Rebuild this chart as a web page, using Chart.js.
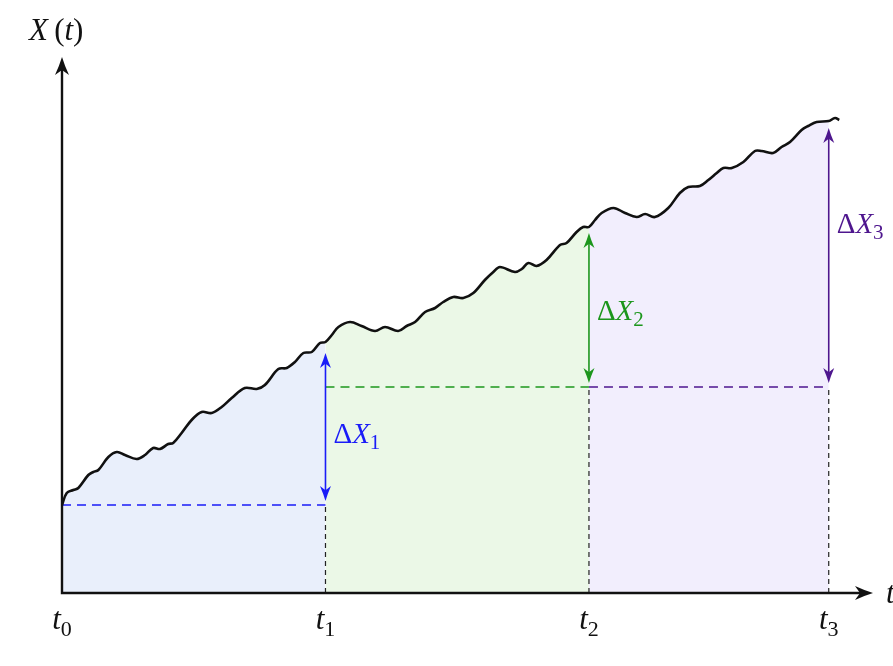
<!DOCTYPE html>
<html>
<head>
<meta charset="utf-8">
<script src="https://cdn.jsdelivr.net/npm/chart.js@4.4.1/dist/chart.umd.min.js"></script>
<style>
  html, body { margin: 0; padding: 0; background: #ffffff; }
  #wrap { width: 893px; height: 666px; }
</style>
</head>
<body>
<div id="wrap"><canvas id="c" width="893" height="666"></canvas></div>
<script>
// ---------------- DATA ----------------
// Sample path X(t)
const tValues = [0.000,0.018,0.043,0.062,0.100,0.119,0.138,0.176,0.208,0.239,0.283,0.315,0.346,0.372,0.403,0.422,0.454,0.492,0.530,0.568,0.606,0.644,0.694,0.739,0.770,0.821,0.853,0.884,0.916,0.948,0.979,1.000,1.024,1.049,1.093,1.137,1.188,1.226,1.276,1.308,1.340,1.378,1.416,1.447,1.485,1.523,1.561,1.605,1.637,1.662,1.719,1.745,1.770,1.801,1.839,1.890,1.915,1.953,1.978,2.000,2.023,2.048,2.093,2.137,2.181,2.213,2.250,2.301,2.345,2.377,2.421,2.453,2.485,2.510,2.542,2.586,2.630,2.655,2.699,2.731,2.763,2.807,2.832,2.864,2.910,2.934,2.950];
const xValues = [0.88,1.00,1.03,1.05,1.18,1.21,1.23,1.36,1.41,1.38,1.34,1.38,1.45,1.44,1.49,1.50,1.60,1.73,1.81,1.80,1.86,1.95,2.05,2.04,2.08,2.24,2.25,2.31,2.40,2.41,2.50,2.51,2.58,2.66,2.71,2.67,2.62,2.66,2.62,2.67,2.71,2.81,2.85,2.91,2.96,2.95,3.00,3.13,3.21,3.26,3.21,3.24,3.30,3.27,3.33,3.48,3.50,3.61,3.66,3.66,3.73,3.80,3.85,3.80,3.76,3.79,3.76,3.85,4.00,4.06,4.07,4.13,4.20,4.25,4.25,4.31,4.42,4.42,4.40,4.46,4.51,4.63,4.67,4.71,4.72,4.75,4.73];

// Time marks t0..t3
const tickTimes = [0, 1, 2, 2.91];
const tickSubs = ['0', '1', '2', '3'];

// Reference levels (dashed horizontals) for each interval
const intervalStarts = [0, 1, 2];
const intervalEnds = [1, 2, 2.91];
const baseLevels = [0.88, 2.06, 2.06];

// Increment arrows ΔX_i : bottom and top values
const arrowTimes = [1, 2, 2.91];
const arrowBottoms = [0.92, 2.10, 2.10];
const arrowTops = [2.40, 3.60, 4.65];
const deltaSubs = ['1', '2', '3'];
const deltaLabelLevels = [1.50, 2.73, 3.60];

// Axis extents (data units)
const tMax = 3.078;
const xMax = 5.36;

// ---------------- STYLE ----------------
const fillColors = ['#e9effb', '#ebf8e7', '#f2eefd'];
const lineColors = ['#1a1cf8', '#1c961c', '#4e168e'];
const SERIF = '"Liberation Serif", "DejaVu Serif", serif';

// ---------------- DATASETS ----------------
const pathPts = tValues.map((t, i) => ({ x: t, y: xValues[i] }));
const datasets = [];

intervalStarts.forEach((a, i) => {
  const b = intervalEnds[i];
  datasets.push({
    data: pathPts.filter(p => p.x >= a - 1e-9 && p.x <= b + 1e-9),
    borderWidth: 0, borderColor: 'rgba(0,0,0,0)',
    backgroundColor: fillColors[i], fill: 'origin',
    pointRadius: 0, tension: 0.35, order: 5
  });
});

intervalStarts.forEach((a, i) => {
  const b = intervalEnds[i];
  datasets.push({
    data: [{ x: a, y: baseLevels[i] }, { x: b, y: baseLevels[i] }],
    borderColor: lineColors[i], borderWidth: 1.4, borderDash: [9, 6],
    pointRadius: 0, fill: false, order: 3
  });
  datasets.push({
    data: [{ x: b, y: 0 }, { x: b, y: baseLevels[i] }],
    borderColor: '#222', borderWidth: 1.2, borderDash: [5, 4],
    pointRadius: 0, fill: false, order: 3
  });
});

datasets.push({
  data: pathPts, borderColor: '#111', borderWidth: 2.6,
  pointRadius: 0, tension: 0.35, fill: false, order: 1
});

// ---------------- DRAWING HELPERS ----------------
function fontFor(k, size) {
  if (k === 'i') return 'italic ' + size + 'px ' + SERIF;
  if (k === 's') return Math.round(size * 0.72) + 'px ' + SERIF;
  return size + 'px ' + SERIF;
}
function drawMath(ctx, parts, x, y, size, color, align) {
  let w = 0;
  parts.forEach(([t, k]) => { ctx.font = fontFor(k, size); w += ctx.measureText(t).width; });
  let cx = align === 'center' ? x - w / 2 : x;
  ctx.fillStyle = color;
  ctx.textBaseline = 'alphabetic';
  ctx.textAlign = 'left';
  parts.forEach(([t, k]) => {
    ctx.font = fontFor(k, size);
    const dy = k === 's' ? size * 0.22 : 0;
    ctx.fillText(t, cx, y + dy);
    cx += ctx.measureText(t).width;
  });
}
function arrowHead(ctx, x, y, dx, dy, len, half) {
  const px = -dy, py = dx;
  const bx = x - dx * len, by = y - dy * len;
  const ix = x - dx * len * 0.72, iy = y - dy * len * 0.72;
  ctx.beginPath();
  ctx.moveTo(x, y);
  ctx.quadraticCurveTo(x - dx * len * 0.45 + px * half * 0.35, y - dy * len * 0.45 + py * half * 0.35,
                       bx + px * half, by + py * half);
  ctx.lineTo(ix, iy);
  ctx.lineTo(bx - px * half, by - py * half);
  ctx.quadraticCurveTo(x - dx * len * 0.45 - px * half * 0.35, y - dy * len * 0.45 - py * half * 0.35, x, y);
  ctx.closePath();
  ctx.fill();
}

const overlay = {
  id: 'overlay',
  beforeDraw(chart) {
    const ctx = chart.ctx;
    ctx.save();
    ctx.fillStyle = '#ffffff';
    ctx.fillRect(0, 0, chart.width, chart.height);
    ctx.restore();
  },
  afterDatasetsDraw(chart) {
    const ctx = chart.ctx;
    const xs = chart.scales.x, ys = chart.scales.y;
    const x0 = xs.getPixelForValue(0), y0 = ys.getPixelForValue(0);
    const xEnd = xs.getPixelForValue(tMax), yEnd = ys.getPixelForValue(xMax);
    ctx.save();
    ctx.strokeStyle = '#111'; ctx.fillStyle = '#111'; ctx.lineWidth = 2.4;
    ctx.lineCap = 'square';
    ctx.beginPath();
    ctx.moveTo(x0, y0); ctx.lineTo(xEnd - 8, y0);
    ctx.moveTo(x0, y0); ctx.lineTo(x0, yEnd + 8);
    ctx.stroke();
    ctx.lineCap = 'butt';
    arrowHead(ctx, xEnd, y0, 1, 0, 18, 7);
    arrowHead(ctx, x0, yEnd, 0, -1, 18, 7);

    arrowTimes.forEach((t, i) => {
      const ax = xs.getPixelForValue(t);
      const yb = ys.getPixelForValue(arrowBottoms[i]);
      const yt = ys.getPixelForValue(arrowTops[i]);
      ctx.strokeStyle = lineColors[i]; ctx.fillStyle = lineColors[i];
      ctx.lineWidth = 1.6;
      ctx.beginPath();
      ctx.moveTo(ax, yb - 6); ctx.lineTo(ax, yt + 6);
      ctx.stroke();
      arrowHead(ctx, ax, yt, 0, -1, 15, 5.5);
      arrowHead(ctx, ax, yb, 0, 1, 15, 5.5);
      drawMath(ctx, [['Δ', 'r'], ['X', 'i'], [deltaSubs[i], 's']],
               ax + 8, ys.getPixelForValue(deltaLabelLevels[i]), 29, lineColors[i], 'left');
    });

    tickTimes.forEach((t, i) => {
      drawMath(ctx, [['t', 'i'], [tickSubs[i], 's']],
               xs.getPixelForValue(t), y0 + 36, 31, '#111', 'center');
    });
    drawMath(ctx, [['t', 'i']], xEnd + 13, y0 + 10, 31, '#111', 'left');
    drawMath(ctx, [['X', 'i'], ['\u2009(', 'r'], ['t', 'i'], [')', 'r']], x0 - 33, yEnd - 17, 31, '#111', 'left');
    ctx.restore();
  }
};

new Chart(document.getElementById('c'), {
  type: 'line',
  data: { datasets },
  options: {
    responsive: false,
    animation: false,
    devicePixelRatio: 1,
    layout: { padding: { left: 62, right: 20, top: 57, bottom: 73 } },
    plugins: { legend: { display: false }, tooltip: { enabled: false } },
    scales: {
      x: { type: 'linear', min: 0, max: tMax, display: false },
      y: { type: 'linear', min: 0, max: xMax, display: false }
    }
  },
  plugins: [overlay]
});
</script>
</body>
</html>
